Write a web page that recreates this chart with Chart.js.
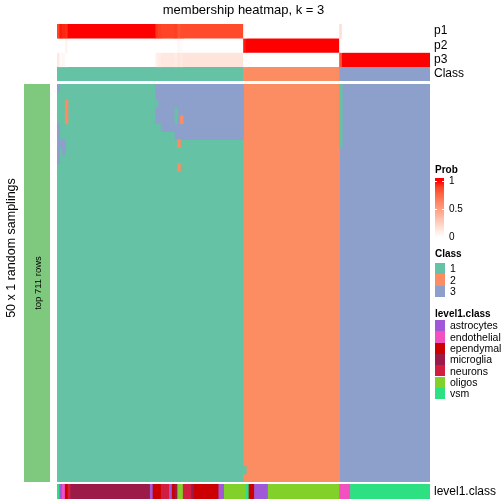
<!DOCTYPE html>
<html>
<head>
<meta charset="utf-8">
<script src="https://cdn.jsdelivr.net/npm/chart.js@4"></script>
<style>
  body { margin: 0; background: #fff; font-family: "Liberation Sans", Arial, sans-serif; }
  #wrap { position: relative; width: 504px; height: 504px; overflow: hidden; }
  #wrap canvas { position: absolute; left: 0; }
  .txt { position: absolute; white-space: nowrap; color: #000; }
  .box { position: absolute; }
  .rot { transform: translate(-50%, -50%) rotate(-90deg); }
</style>
</head>
<body>
<div id="wrap">
  <canvas id="topChart" width="504" height="82" style="top:0"></canvas>
  <canvas id="mainChart" width="504" height="398" style="top:84px"></canvas>
  <canvas id="bottomChart" width="504" height="15" style="top:484px"></canvas>
  <div class="txt rot" style="left:11px; top:248px; font-size:12.5px">50 x 1 random samplings</div>
  <div class="box" id="rowBlock" style="left:24px; top:84px; width:26px; height:398px"></div>
  <div class="txt rot" style="left:37px; top:283px; font-size:9.5px">top 711 rows</div>
  <div id="legends"></div>
</div>
<script>
Chart.defaults.font.family = '"Liberation Sans", Arial, sans-serif';
Chart.defaults.color = "#000";

const nSamples = 136;
const nSamplings = 50;
const classNames = ["1", "2", "3"];
const classColors = ["#66C2A5", "#FC8D62", "#8DA0CB"];
const classCounts = [68, 35, 33];
const rowBlockColor = "#7FC97F";

// runs of samples: [samples, p1, p2, p3]
const probRuns = [
  [1, 0.88, 0, 0.12],
  [1, 0.98, 0, 0.02],
  [1, 0.96, 0, 0.04],
  [1, 0.94, 0.06, 0],
  [32, 1, 0, 0],
  [1, 0.92, 0, 0.08],
  [1, 0.9, 0, 0.1],
  [5, 0.88, 0, 0.12],
  [1, 0.9, 0, 0.1],
  [1, 0.82, 0.04, 0.14],
  [1, 0.86, 0.02, 0.12],
  [22, 0.86, 0, 0.14],
  [1, 0.02, 0.98, 0],
  [34, 0, 1, 0],
  [1, 0.16, 0, 0.84],
  [32, 0, 0, 1],
];
const probTicks = [0, 0.5, 1];

const level1Names = ["astrocytes", "endothelial", "ependymal", "microglia", "neurons", "oligos", "vsm"];
const level1Colors = ["#A057D8", "#F24FBF", "#CC0000", "#9C1A47", "#D11E40", "#82D12B", "#2DE082"];
const level1Runs = [
  ["vsm", 1], ["astrocytes", 1], ["endothelial", 1], ["ependymal", 1], ["neurons", 1],
  ["microglia", 29], ["astrocytes", 1], ["ependymal", 3], ["neurons", 3], ["astrocytes", 1],
  ["ependymal", 1], ["microglia", 1], ["oligos", 2], ["neurons", 3], ["microglia", 1],
  ["ependymal", 9], ["astrocytes", 2], ["oligos", 8], ["vsm", 1], ["ependymal", 2],
  ["astrocytes", 5], ["oligos", 26], ["endothelial", 4], ["vsm", 29],
];

// samplings whose class differs from the consensus: [first row, last row, first sample, end sample, class]
const disagreements = [
  [0, 0, 0, 1, 3],
  [2, 4, 3, 4, 2],
  [5, 6, 0, 1, 3],
  [7, 7, 0, 3, 3],
  [8, 8, 0, 1, 3],
  [8, 8, 2, 3, 3],
  [9, 9, 0, 1, 3],
  [0, 1, 36, 68, 3],
  [2, 2, 37, 68, 3],
  [3, 4, 36, 68, 3],
  [5, 5, 38, 68, 3],
  [6, 6, 43, 68, 3],
  [3, 4, 43, 44, 1],
  [4, 4, 45, 46, 2],
  [7, 7, 44, 45, 2],
  [10, 10, 44, 45, 2],
  [48, 48, 68, 69, 1],
  [0, 7, 103, 104, 1],
];

// white -> red in LAB space
function probColor(p) {
  const L = 100 + (53.2408 - 100) * p, a = 80.0925 * p, b = 67.2032 * p;
  const fy = (L + 16) / 116, fx = fy + a / 500, fz = fy - b / 200;
  const finv = t => (t ** 3 > 0.008856 ? t ** 3 : (t - 16 / 116) / 7.787);
  const X = 0.95047 * finv(fx), Y = finv(fy), Z = 1.08883 * finv(fz);
  const r = 3.2406 * X - 1.5372 * Y - 0.4986 * Z;
  const g = -0.9689 * X + 1.8758 * Y + 0.0415 * Z;
  const bl = 0.0557 * X - 0.204 * Y + 1.057 * Z;
  const gam = c => {
    c = c > 0.0031308 ? 1.055 * Math.pow(c, 1 / 2.4) - 0.055 : 12.92 * c;
    return Math.round(Math.min(1, Math.max(0, c)) * 255);
  };
  return `rgb(${gam(r)},${gam(g)},${gam(bl)})`;
}

const common = {
  indexAxis: "y",
  responsive: false,
  animation: false,
  events: [],
  plugins: { legend: { display: false }, tooltip: { enabled: false } },
};
const barStyle = { grouped: false, barPercentage: 1, categoryPercentage: 1, borderWidth: 0 };
const rightAxis = labels => ({
  type: "category",
  labels,
  position: "right",
  offset: true,
  grid: { display: false, drawTicks: false },
  border: { display: false },
  ticks: { color: "#000", font: { size: 12 }, padding: 4, autoSkip: false },
  afterFit: axis => {
    axis.width = 74;
    axis.paddingTop = 0;
    axis.paddingBottom = 0;
  },
});

// top annotation: p1, p2, p3 and Class
const probBars = [[], [], []];
let pos = 0;
probRuns.forEach(([n, ...ps]) => {
  ps.forEach((p, k) => probBars[k].push({ y: "p" + (k + 1), x: [pos, pos + n], p }));
  pos += n;
});
const classBars = [];
pos = 0;
classCounts.forEach((n, i) => {
  classBars.push({ y: "Class", x: [pos, pos + n], cls: i });
  pos += n;
});

new Chart(document.getElementById("topChart"), {
  type: "bar",
  data: {
    datasets: [
      ...probBars.map(data => ({ ...barStyle, data, backgroundColor: c => probColor(c.raw.p) })),
      { ...barStyle, data: classBars, backgroundColor: c => classColors[c.raw.cls] },
    ],
  },
  options: {
    ...common,
    layout: { autoPadding: false, padding: { left: 57, bottom: 1 } },
    plugins: {
      ...common.plugins,
      title: {
        display: true,
        text: "membership heatmap, k = 3",
        fullSize: false,
        color: "#000",
        font: { size: 13, weight: "normal" },
        padding: { top: 3, bottom: 5.4 },
      },
    },
    scales: {
      x: { type: "linear", min: 0, max: nSamples, display: false },
      y: rightAxis(["p1", "p2", "p3", "Class"]),
    },
  },
});

// main body: samplings that disagree drawn on top of the consensus class blocks
const rowLabels = Array.from({ length: nSamplings }, (_, i) => "s" + (i + 1));
const baseSets = [];
pos = 0;
classCounts.forEach((n, i) => {
  baseSets.push({ ...barStyle, yAxisID: "yAll", data: [{ y: "all", x: [pos, pos + n] }], backgroundColor: classColors[i] });
  pos += n;
});
const diffBars = [];
disagreements.forEach(([r0, r1, c0, c1, cls]) => {
  for (let r = r0; r <= r1; r++) diffBars.push({ y: rowLabels[r], x: [c0, c1], cls: cls - 1 });
});

new Chart(document.getElementById("mainChart"), {
  type: "bar",
  data: {
    datasets: [
      { ...barStyle, yAxisID: "y", data: diffBars, backgroundColor: c => classColors[c.raw.cls] },
      ...baseSets,
    ],
  },
  options: {
    ...common,
    layout: { autoPadding: false, padding: { left: 57, right: 74 } },
    scales: {
      x: { type: "linear", min: 0, max: nSamples, display: false },
      y: { type: "category", axis: "y", labels: rowLabels, offset: true, display: false },
      yAll: { type: "category", axis: "y", labels: ["all"], offset: true, display: false },
    },
  },
});

// bottom annotation: level1.class
const levelBars = [];
pos = 0;
level1Runs.forEach(([name, n]) => {
  levelBars.push({ y: "level1.class", x: [pos, pos + n], name });
  pos += n;
});

new Chart(document.getElementById("bottomChart"), {
  type: "bar",
  data: {
    datasets: [
      { ...barStyle, data: levelBars, backgroundColor: c => level1Colors[level1Names.indexOf(c.raw.name)] },
    ],
  },
  options: {
    ...common,
    layout: { autoPadding: false, padding: { left: 57 } },
    scales: {
      x: { type: "linear", min: 0, max: nSamples, display: false },
      y: rightAxis(["level1.class"]),
    },
  },
});

// legends on the right
document.getElementById("rowBlock").style.background = rowBlockColor;
const legend = document.getElementById("legends");
function addText(text, x, cy, size, bold) {
  const d = document.createElement("div");
  d.className = "txt";
  d.textContent = text;
  d.style.left = x + "px";
  d.style.top = cy - size * 0.6 + "px";
  d.style.fontSize = size + "px";
  d.style.lineHeight = size * 1.2 + "px";
  if (bold) d.style.fontWeight = "bold";
  legend.appendChild(d);
}
function addBox(x, y, w, h, bg) {
  const d = document.createElement("div");
  d.className = "box";
  Object.assign(d.style, { left: x + "px", top: y + "px", width: w + "px", height: h + "px", background: bg });
  legend.appendChild(d);
}

addText("Prob", 435, 170, 10, true);
const gradTop = 178, gradH = 62, valTop = 181, valSpan = 56;
const stops = [];
for (let i = 0; i <= 10; i++) {
  const v = 1 - i / 10;
  stops.push(`${probColor(v)} ${(((valTop - gradTop) + (1 - v) * valSpan) / gradH * 100).toFixed(1)}%`);
}
addBox(435, gradTop, 9, gradH, `linear-gradient(to bottom, ${stops.join(", ")})`);
probTicks.forEach(v => {
  const y = valTop + (1 - v) * valSpan;
  if (v > 0) {
    addBox(435, y - 0.5, 2, 1, "#fff");
    addBox(442, y - 0.5, 2, 1, "#fff");
  }
  addText(String(v), 449, y, 10);
});

addText("Class", 435, 254, 10, true);
classNames.forEach((n, i) => {
  addBox(435, 263 + i * 11.3, 10, 11.3, classColors[i]);
  addText(n, 450, 263 + i * 11.3 + 5.65, 10.5);
});

addText("level1.class", 435, 313.5, 10, true);
level1Names.forEach((n, i) => {
  addBox(435, 320 + i * 11.3, 10, 11.3, level1Colors[i]);
  addText(n, 450, 320 + i * 11.3 + 5.65, 10.5);
});
</script>
</body>
</html>
